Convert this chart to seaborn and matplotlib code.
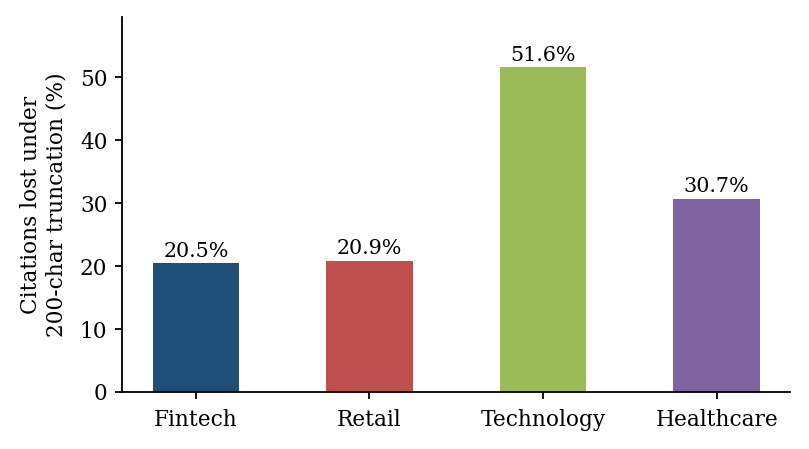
import matplotlib
matplotlib.use("Agg")
import matplotlib.pyplot as plt
import seaborn as sns
import pandas as pd

categories = ["Fintech", "Retail", "Technology", "Healthcare"]
values = [20.5, 20.9, 51.6, 30.7]
colors = ["#1f4e79", "#c0504d", "#9bbb59", "#8064a2"]

sns.set_style("ticks")
plt.rcParams['font.family'] = ['DejaVu Serif']
plt.rcParams['text.color'] = 'black'
plt.rcParams['axes.labelcolor'] = 'black'
plt.rcParams['xtick.color'] = 'black'
plt.rcParams['ytick.color'] = 'black'
plt.rcParams['axes.edgecolor'] = 'black'

FS = 15.6
df = pd.DataFrame({"cat": categories, "val": values})
fig, ax = plt.subplots(figsize=(8.09, 4.49), dpi=100)
sns.barplot(data=df, x="cat", y="val", hue="cat", palette=colors, width=0.5,
            legend=False, ax=ax, saturation=1, linewidth=0)
for i, v in enumerate(values):
    ax.text(i, v + 0.4, f"{v:.1f}%", ha="center", va="bottom", fontsize=FS * 0.95)
ax.set_xlim(-0.425, 3.425)
ax.set_ylim(0, 59.6)
ax.set_xlabel("")
ax.set_ylabel("Citations lost under\n200-char truncation (%)", fontsize=FS, labelpad=9)
ax.tick_params(labelsize=FS, length=5, width=1.3, colors="black")
ax.tick_params(axis="x", pad=7)
ax.tick_params(axis="y", pad=5.6)
for s in ax.spines.values():
    s.set_linewidth(1.3)
sns.despine(ax=ax)
fig.subplots_adjust(left=0.151, right=0.977, top=0.962, bottom=0.127)
fig.savefig("out.png", dpi=100)
